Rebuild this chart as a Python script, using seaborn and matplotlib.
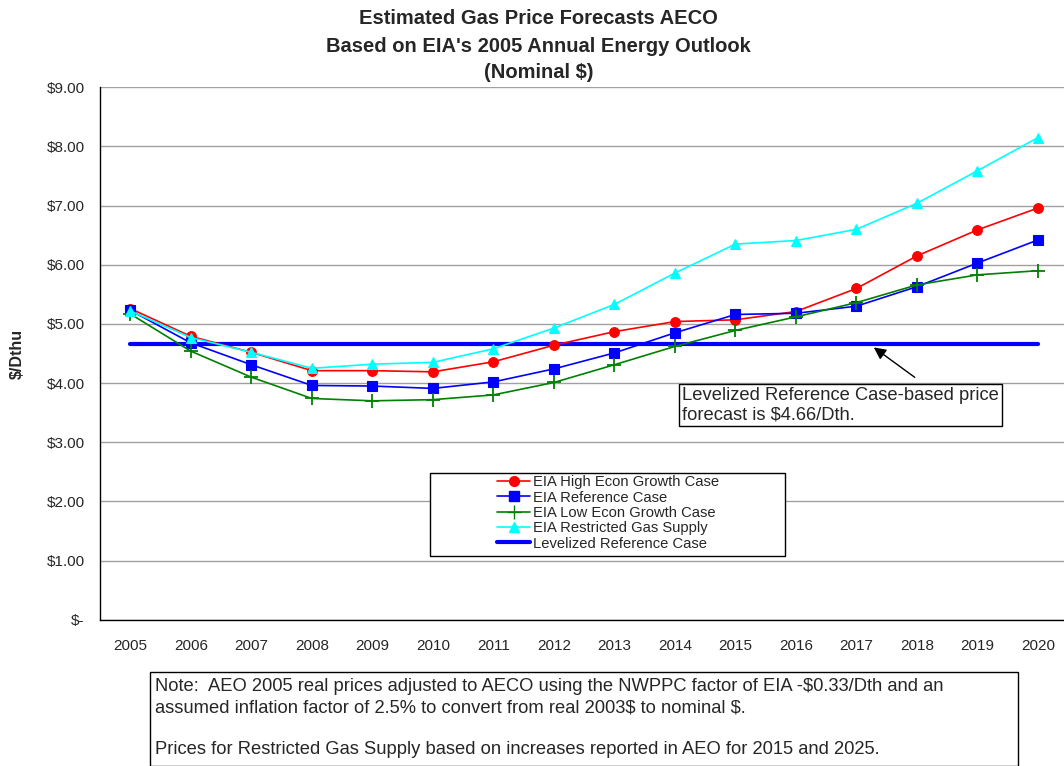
import pandas as pd
import matplotlib
matplotlib.use("Agg")
import matplotlib.pyplot as plt
import seaborn as sns
from matplotlib.patches import Rectangle
from matplotlib.lines import Line2D

# === DATA ===
years = [str(y) for y in range(2005, 2021)]
high_econ = [5.26, 4.79, 4.52, 4.21, 4.21, 4.19, 4.36, 4.64, 4.87, 5.04, 5.07, 5.21, 5.60, 6.15, 6.59, 6.96]
reference = [5.23, 4.68, 4.31, 3.96, 3.95, 3.91, 4.02, 4.24, 4.51, 4.85, 5.16, 5.18, 5.30, 5.63, 6.03, 6.42]
low_econ = [5.17, 4.54, 4.10, 3.74, 3.70, 3.72, 3.80, 4.01, 4.31, 4.62, 4.89, 5.12, 5.36, 5.66, 5.83, 5.90]
restricted = [5.22, 4.77, 4.52, 4.25, 4.32, 4.35, 4.58, 4.93, 5.33, 5.86, 6.35, 6.41, 6.60, 7.04, 7.59, 8.15]
levelized = 4.66
y_ticks = [0, 1, 2, 3, 4, 5, 6, 7, 8, 9]
y_labels = ["$-", "$1.00", "$2.00", "$3.00", "$4.00", "$5.00", "$6.00", "$7.00", "$8.00", "$9.00"]
title_lines = ["Estimated Gas Price Forecasts AECO",
               "Based on EIA's 2005 Annual Energy Outlook",
               "(Nominal $)"]

series = {
    "EIA High Econ Growth Case": (high_econ, "red", "o", 7),
    "EIA Reference Case": (reference, "blue", "s", 7),
    "EIA Low Econ Growth Case": (low_econ, "green", "+", 10),
    "EIA Restricted Gas Supply": (restricted, "cyan", "^", 7.5),
}

sns.set_style("white")
plt.rcParams["font.family"] = ["Liberation Sans", "DejaVu Sans"]
plt.rcParams["text.parse_math"] = False

fig = plt.figure(figsize=(10.64, 7.66), dpi=100)
ax = fig.add_axes([0.094, 0.191, 0.91, 0.695])

x = list(range(len(years)))
handles = []
for name, (vals, color, marker, ms) in series.items():
    df = pd.DataFrame({"x": x, "y": vals})
    sns.lineplot(data=df, x="x", y="y", ax=ax, color=color, marker=marker,
                 markersize=ms, linewidth=1.2, markeredgecolor=color,
                 markeredgewidth=1.3 if marker == "+" else 0.8, zorder=3)
    handles.append(Line2D([], [], color=color, marker=marker, markersize=ms,
                          markeredgecolor=color, linewidth=1.2, label=name))

lev_df = pd.DataFrame({"x": x, "y": [levelized] * len(x)})
sns.lineplot(data=lev_df, x="x", y="y", ax=ax, color="blue", linewidth=3, zorder=2)
handles.append(Line2D([], [], color="blue", linewidth=3, label="Levelized Reference Case"))

ax.set_xlim(-0.5, len(years) - 0.5)
ax.set_ylim(0, 9)
ax.set_yticks(y_ticks)
ax.set_yticklabels(y_labels, fontsize=11)
ax.set_xticks(x)
ax.set_xticklabels(years, fontsize=11)
ax.set_xticks([i - 0.5 for i in range(len(years) + 1)], minor=True)
ax.tick_params(axis="x", which="major", length=0, pad=14)
ax.tick_params(axis="x", which="minor", length=5, width=1, color="black", direction="out")
ax.tick_params(axis="y", length=5, width=1, color="black", direction="out", pad=6)
ax.yaxis.grid(True, color="#a0a0a0", linewidth=1)
ax.set_axisbelow(True)
for s in ["top", "right"]:
    ax.spines[s].set_visible(False)
for s in ["left", "bottom"]:
    ax.spines[s].set_color("black")
    ax.spines[s].set_linewidth(1)
ax.set_xlabel("")
ax.set_ylabel("$/Dthu", fontsize=11.5, fontweight="bold", labelpad=16)

# legend: wide box with handles set in from the left, as in the original
ax.add_patch(Rectangle((0.341, 0.1197), 0.366, 0.1558, transform=ax.transAxes,
                       facecolor="white", edgecolor="black", linewidth=1, zorder=4))
leg = ax.legend(handles=handles, loc="upper left", bbox_to_anchor=(0.408, 0.2755),
                fontsize=10.6, frameon=False, handlelength=2.25,
                handletextpad=0.2, labelspacing=0.09, borderpad=0.15,
                borderaxespad=0)
leg.set_zorder(5)

ax.annotate("", xy=(12.25, 4.63), xytext=(13.0, 4.07),
            arrowprops=dict(arrowstyle="-|>", color="black", lw=1, mutation_scale=18))
ax.text(9.12, 3.63, "Levelized Reference Case-based price\nforecast is $4.66/Dth.",
        fontsize=13.2, va="center", ha="left", linespacing=1.2,
        bbox=dict(boxstyle="square,pad=0.17", facecolor="white", edgecolor="black", linewidth=1))

for i, line in enumerate(title_lines):
    fig.text(0.506, 1 - (19 + 27 * i) / 766, line, ha="center", va="center",
             fontsize=14.5, fontweight="bold")

fig.patches.append(Rectangle((0.141, 0.0), 0.816, 0.123, transform=fig.transFigure,
                             facecolor="white", edgecolor="black", linewidth=1))
fig.text(0.146, 1 - 678 / 766, "Note:  AEO 2005 real prices adjusted to AECO using the NWPPC factor of EIA -$0.33/Dth and an\n"
         "assumed inflation factor of 2.5% to convert from real 2003$ to nominal $.\n\n"
         "Prices for Restricted Gas Supply based on increases reported in AEO for 2015 and 2025.",
         ha="left", va="top", fontsize=13.2, linespacing=1.32)

plt.savefig("out.png", dpi=100)
